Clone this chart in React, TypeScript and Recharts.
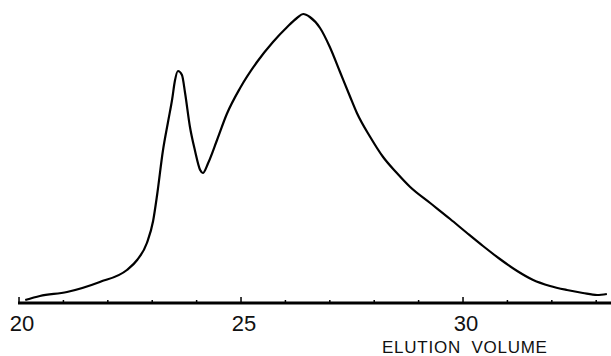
import React from 'react';
import { LineChart, Line, XAxis, YAxis } from 'recharts';

// elution volume (ml) and detector response (arbitrary units)
const volume = [
  20.14, 20.47, 21.08, 21.82, 22.43, 22.66, 22.88, 23.02, 23.11, 23.24,
  23.36, 23.45, 23.51, 23.58, 23.67, 23.74, 23.85, 23.96, 24.08, 24.14,
  24.26, 24.46, 24.68, 24.98, 25.36, 25.72, 26.04, 26.26, 26.4, 26.55,
  26.78, 27.0, 27.23, 27.45, 27.61, 27.91, 28.2, 28.51, 28.81, 29.26,
  29.71, 30.09, 30.45, 30.83, 31.22, 31.58, 31.96, 32.34, 32.7, 33.02, 33.24,
];
const response = [
  3, 7, 11, 21, 33, 43, 60, 82, 108, 152,
  182, 204, 222, 232, 228, 210, 176, 153, 133, 130,
  140, 163, 189, 215, 241, 261, 276, 285, 289, 286,
  275, 256, 231, 207, 190, 166, 146, 130, 116, 100,
  84, 70, 57, 44, 32, 23, 17, 13, 10, 8, 9,
];
const tickValues = [20, 21, 22, 23, 24, 25, 26, 27, 28, 29, 30, 31, 32, 33];
const labelledTicks = [20, 25, 30];
const axisTitle = 'ELUTION VOLUME';

const data = volume.map((v, i) => ({ v, r: response[i] }));

const FONT = '"Liberation Sans", Arial, sans-serif';

function AxisTick(props: any) {
  const { x, y, payload } = props;
  const major = labelledTicks.includes(payload.value);
  return (
    <g>
      <line x1={x} x2={x} y1={y} y2={y - (major ? 6 : 3)} stroke="#000" strokeWidth={1.5} />
      {major && (
        <text x={x + 3} y={y + 28} textAnchor="middle" fontFamily={FONT} fontSize={22} fill="#111">
          {payload.value}
        </text>
      )}
    </g>
  );
}

export default function App() {
  return (
    <div style={{ position: 'absolute', left: 0, top: 0, width: 611, height: 356, background: '#fff' }}>
      <LineChart width={611} height={356} data={data} margin={{ top: 0, right: 0, bottom: 0, left: 18 }}>
        <XAxis
          dataKey="v"
          type="number"
          domain={[19.977, 33.333]}
          ticks={tickValues}
          interval={0}
          height={53}
          tickSize={0}
          tickMargin={0}
          axisLine={{ stroke: '#000', strokeWidth: 3 }}
          tickLine={false}
          tick={<AxisTick />}
          allowDataOverflow
          label={() => (
            <text x={382} y={353} fontFamily={FONT} fontSize={17} letterSpacing={0.75} wordSpacing={5} fill="#111">
              {axisTitle}
            </text>
          )}
        />
        <YAxis hide domain={[0, 303]} allowDataOverflow />
        <Line
          dataKey="r"
          type="monotone"
          stroke="#000"
          strokeWidth={2.2}
          dot={false}
          isAnimationActive={false}
        />
      </LineChart>
    </div>
  );
}
